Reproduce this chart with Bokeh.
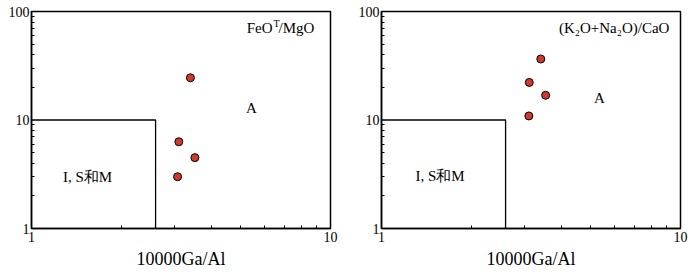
from bokeh.plotting import figure
from bokeh.layouts import row
from bokeh.models import FixedTicker, Label, PrintfTickFormatter
from bokeh.embed import file_html
from bokeh.resources import INLINE

# Data
ga_al_fe = [3.40, 3.11, 3.52, 3.08]
fe_mg = [24.5, 6.3, 4.5, 3.0]
ga_al_k = [3.41, 3.12, 3.54, 3.11]
kna_ca = [36.5, 22.2, 16.9, 10.9]
box_x = [1, 2.6, 2.6]
box_y = [10, 10, 1]
y_ticks = [1, 10, 100]
x_ticks = [1, 10]
x_minor = [2, 3, 4, 5, 6, 7, 8, 9]
y_minor = [2, 3, 4, 5, 6, 7, 8, 9, 20, 30, 40, 50, 60, 70, 80, 90]
xlabel = "10000Ga/Al"

FONT = "Liberation Serif"


def lab(p, x, y, text, size="15px", align="center", xo=0, yo=0, baseline="middle"):
    p.add_layout(Label(x=x, y=y, text=text, text_font=FONT, text_font_size=size,
                       text_align=align, text_baseline=baseline, x_offset=xo, y_offset=yo,
                       text_color="black"))


def make(border_left, border_right, xs, ys, a_pos, ism_pos):
    p = figure(frame_width=299, frame_height=217, x_axis_type="log", y_axis_type="log",
               x_range=(1, 10), y_range=(1, 100), output_backend="svg",
               toolbar_location=None, min_border_left=border_left, min_border_right=border_right,
               min_border_top=11, min_border_bottom=0)
    p.grid.visible = False
    p.outline_line_color = "black"
    p.outline_line_width = 1.5
    p.xaxis.ticker = FixedTicker(ticks=x_ticks, minor_ticks=x_minor)
    p.yaxis.ticker = FixedTicker(ticks=y_ticks, minor_ticks=y_minor)
    for ax in (p.xaxis[0], p.yaxis[0]):
        ax.formatter = PrintfTickFormatter(format="%d")
        ax.axis_line_color = "black"
        ax.axis_line_width = 1.5
        ax.major_tick_in = 0
        ax.major_tick_out = 0
        ax.minor_tick_in = 3
        ax.minor_tick_out = 0
        ax.minor_tick_line_color = "black"
        ax.major_label_text_font = FONT
        ax.major_label_text_color = "black"
    p.xaxis.major_label_text_font_size = "14px"
    p.yaxis.major_label_text_font_size = "14px"
    p.xaxis.major_label_standoff = 3
    p.yaxis.major_label_standoff = 2
    p.xaxis.axis_label = xlabel
    p.xaxis.axis_label_text_font = FONT
    p.xaxis.axis_label_text_font_style = "normal"
    p.xaxis.axis_label_text_font_size = "18px"
    p.xaxis.axis_label_text_color = "black"
    p.xaxis.axis_label_standoff = 4
    p.line(box_x, box_y, line_color="black", line_width=1.3)
    p.scatter(xs, ys, size=8, fill_color="#d03a2b", line_color="black", line_width=1)
    lab(p, a_pos[0], a_pos[1], "A")
    lab(p, ism_pos[0], ism_pos[1], "I, S和M")
    return p


p1 = make(31, 25, ga_al_fe, fe_mg, (5.44, 12.8), (1.54, 3.0))
# title FeO^T/MgO
lab(p1, 6.40, 71, "FeO", align="right")
lab(p1, 6.40, 71, "T", size="10px", align="left", xo=1, yo=4)
lab(p1, 6.40, 71, "/MgO", align="left", xo=6)

p2 = make(25, 8, ga_al_k, kna_ca, (5.36, 15.8), (1.57, 3.05))
lab(p2, 6.0, 71, "(K₂O+Na₂O)/CaO")

layout = row(p1, p2)
open("out.html", "w").write(file_html(layout, INLINE))
